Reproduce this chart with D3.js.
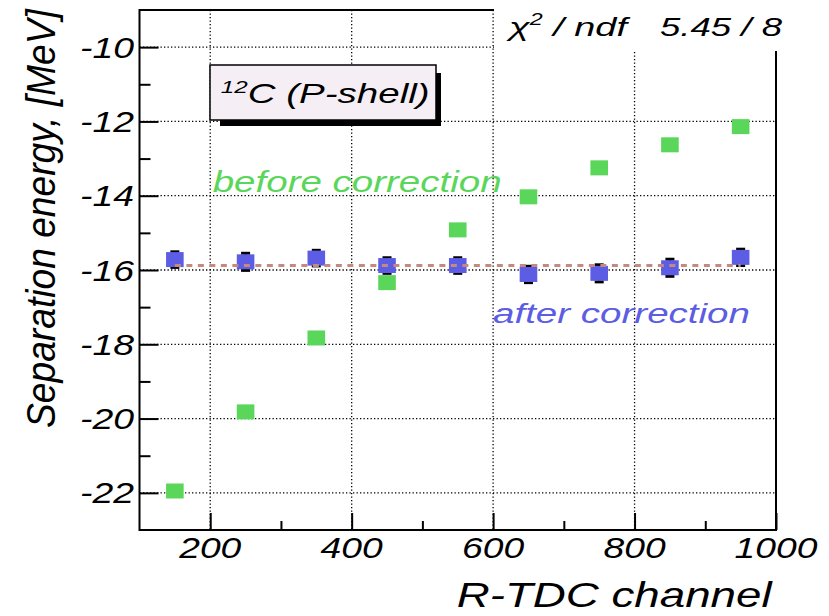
<!doctype html>
<html>
<head>
<meta charset="utf-8">
<style>
  body { margin: 0; background: #fff; }
  svg { display: block; }
  text { font-family: "Liberation Sans", Arial, sans-serif; font-style: italic; }
</style>
<script src="https://d3js.org/d3.v7.min.js"></script>
</head>
<body>
<svg width="829" height="616"></svg>
<script>
// R-TDC channel of each bin
var channels = [150, 250, 350, 450, 550, 650, 750, 850, 950];
// separation energy before correction [MeV]
var before = [-21.95, -19.82, -17.83, -16.34, -14.92, -14.03, -13.25, -12.63, -12.14];
// separation energy after correction [MeV] and its errors
var after = [-15.72, -15.78, -15.68, -15.88, -15.88, -16.12, -16.09, -15.94, -15.66];
var afterErr = [0.21, 0.23, 0.21, 0.21, 0.21, 0.22, 0.23, 0.23, 0.22];
// constant fit of the corrected points
var fitValue = -15.88;
var fitRange = [150, 950];
var chi2 = "5.45", ndf = "8";

var xTicks = [200, 400, 600, 800, 1000];
var xMinor = [300, 500, 700, 900];
var yTicks = [-22, -20, -18, -16, -14, -12, -10];
var yMinor = [-21, -19, -17, -15, -13, -11];

var green = "#5ad65a", blue = "#5c5ce4";

var svg = d3.select("svg");
var x = d3.scaleLinear().domain([100, 1000]).range([139.5, 776]);
var y = d3.scaleLinear().domain([-23, -9]).range([530, 10]);

// text helper: stretch horizontally to the width seen in the picture
function label(str, px, py, size, width, anchor, color) {
  var t = svg.append("text")
    .attr("font-size", size)
    .attr("text-anchor", anchor || "start")
    .attr("fill", color || "#000")
    .text(str);
  var w = t.node().getComputedTextLength();
  t.attr("transform", "translate(" + px + "," + py + ") scale(" + (width / w) + ",1)");
  return t;
}

// grid
var grid = svg.append("g").attr("stroke", "#000").attr("stroke-width", 1.3)
  .attr("stroke-dasharray", "1.3,2.2");
grid.selectAll(".gx").data(xTicks.slice(0, 4)).enter().append("line")
  .attr("x1", d => x(d)).attr("x2", d => x(d)).attr("y1", y(-9)).attr("y2", y(-23));
grid.selectAll(".gy").data(yTicks).enter().append("line")
  .attr("y1", d => y(d)).attr("y2", d => y(d)).attr("x1", x(100)).attr("x2", x(1000));

// before correction markers
svg.append("g").selectAll("rect").data(channels).enter().append("rect")
  .attr("x", d => x(d) - 8.8).attr("y", (d, i) => y(before[i]) - 7.5)
  .attr("width", 17.6).attr("height", 15).attr("fill", green);

// after correction error bars + markers
var eb = svg.append("g").attr("stroke", "#000");
eb.selectAll(".v").data(channels).enter().append("line")
  .attr("x1", d => x(d)).attr("x2", d => x(d))
  .attr("y1", (d, i) => y(after[i] + afterErr[i])).attr("y2", (d, i) => y(after[i] - afterErr[i]))
  .attr("stroke-width", 2);
eb.selectAll(".ct").data(channels).enter().append("line")
  .attr("x1", d => x(d) - 4.5).attr("x2", d => x(d) + 4.5)
  .attr("y1", (d, i) => y(after[i] + afterErr[i])).attr("y2", (d, i) => y(after[i] + afterErr[i]))
  .attr("stroke-width", 3);
eb.selectAll(".cb").data(channels).enter().append("line")
  .attr("x1", d => x(d) - 4.5).attr("x2", d => x(d) + 4.5)
  .attr("y1", (d, i) => y(after[i] - afterErr[i])).attr("y2", (d, i) => y(after[i] - afterErr[i]))
  .attr("stroke-width", 3);
svg.append("g").selectAll("rect").data(channels).enter().append("rect")
  .attr("x", d => x(d) - 8.8).attr("y", (d, i) => y(after[i]) - 7.5)
  .attr("width", 17.6).attr("height", 15).attr("fill", blue);

// fit line
svg.append("line")
  .attr("x1", x(fitRange[0])).attr("x2", x(fitRange[1]))
  .attr("y1", y(fitValue)).attr("y2", y(fitValue))
  .attr("stroke", "#c48a80").attr("stroke-width", 3).attr("stroke-dasharray", "6,5.5");

// axes (ROOT style, ticks inside the frame)
svg.append("g").attr("transform", "translate(" + x(100) + ",0)")
  .call(d3.axisRight(y).tickValues(yTicks).tickSize(19).tickFormat(""))
  .call(g => g.select(".domain").remove());
svg.append("g").attr("transform", "translate(" + x(100) + ",0)")
  .call(d3.axisRight(y).tickValues(yMinor).tickSize(11).tickFormat(""))
  .call(g => g.select(".domain").remove());
svg.append("g").attr("transform", "translate(0," + y(-23) + ")")
  .call(d3.axisTop(x).tickValues(xTicks).tickSize(17).tickFormat(""))
  .call(g => g.select(".domain").remove());
svg.append("g").attr("transform", "translate(0," + y(-23) + ")")
  .call(d3.axisTop(x).tickValues(xMinor).tickSize(9).tickFormat(""))
  .call(g => g.select(".domain").remove());
svg.selectAll(".tick line").attr("stroke", "#000").attr("stroke-width", 2);

// frame
svg.append("rect").attr("x", x(100)).attr("y", y(-9))
  .attr("width", x(1000) - x(100)).attr("height", y(-23) - y(-9))
  .attr("fill", "none").attr("stroke", "#000").attr("stroke-width", 2);

// tick labels
yTicks.forEach(function(v) {
  label(String(v), 134, y(v) + 10.5, 29, 54, "end");
});
xTicks.forEach(function(v) {
  label(String(v), x(v), 558, 29, String(v).length * 20.7, "middle");
});

// axis titles
label("R-TDC channel", 456.7, 607, 36, 315, "start");
var yt = svg.append("text").attr("font-size", 36).text("Separation energy, [MeV]");
var ytw = yt.node().getComputedTextLength();
yt.attr("transform", "translate(55,428) scale(1.15,1) rotate(-90) scale(" + (419 / ytw) + ",1)");

// nucleus label box
svg.append("rect").attr("x", 220).attr("y", 73).attr("width", 221).attr("height", 53).attr("fill", "#000");
svg.append("rect").attr("x", 210).attr("y", 65).attr("width", 226).attr("height", 55)
  .attr("fill", "#f5eff5").attr("stroke", "#000").attr("stroke-width", 1.5);
var nt = svg.append("text").attr("font-size", 27);
nt.append("tspan").attr("font-size", 17).attr("dy", -10).text("12");
nt.append("tspan").attr("dy", 10).text("C (P-shell)");
var ntw = nt.node().getComputedTextLength();
nt.attr("transform", "translate(220.7,103) scale(" + (209 / ntw) + ",1)");

// series labels
label("before correction", 212.7, 192, 29, 289, "start", green);
label("after correction", 493, 323, 28, 257, "start", blue);

// stats box
svg.append("rect").attr("x", 494).attr("y", 0).attr("width", 335).attr("height", 51).attr("fill", "#fff");
var ct = svg.append("text").attr("font-size", 26);
ct.append("tspan").text("\u03c7");
ct.append("tspan").attr("font-size", 16).attr("dy", -11).text("2");
ct.append("tspan").attr("dy", 11).text(" / ndf");
var ctw = ct.node().getComputedTextLength();
ct.attr("transform", "translate(509,36) scale(" + (118 / ctw) + ",1)");
label(chi2 + " / " + ndf, 660, 36, 26, 122, "start");
</script>
</body>
</html>
